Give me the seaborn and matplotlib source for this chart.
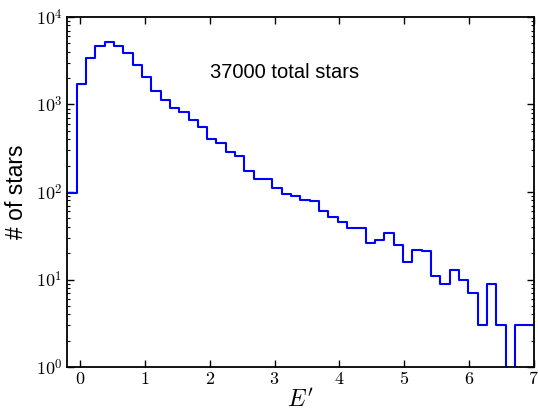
import numpy as np
import pandas as pd
import matplotlib
matplotlib.use("Agg")
import matplotlib.pyplot as plt
from matplotlib.ticker import FixedLocator, FuncFormatter, LogLocator, NullFormatter
import seaborn as sns

# Histogram of E' : 50 equal-width bins between E' = -0.2 and 7.0
bin_lo = -0.2
bin_hi = 7.0
n_bins = 50
counts = [
    98, 1718, 3400, 4700, 5170, 4700, 3835, 2800, 2040, 1440,
    1128, 914, 815, 667, 550, 405, 365, 290, 259, 176,
    140, 139, 110, 95, 89, 82, 79, 61, 52, 45,
    39, 39, 26, 28, 34, 25, 16, 22, 21, 11,
    9, 13, 10, 7, 3, 9, 3, 0, 3, 3,
]
total_label = "37000 total stars"
x_ticks = [0, 1, 2, 3, 4, 5, 6, 7]
y_decades = [0, 1, 2, 3, 4]

edges = np.linspace(bin_lo, bin_hi, n_bins + 1)
df = pd.DataFrame({"E": 0.5 * (edges[:-1] + edges[1:]), "n": counts})

sns.set_style("white")
plt.rcParams["font.family"] = ["Liberation Sans", "DejaVu Sans"]
plt.rcParams["mathtext.fontset"] = "cm"
plt.rcParams["text.color"] = "black"
plt.rcParams["axes.labelcolor"] = "black"

fig = plt.figure(figsize=(5.38, 4.11), dpi=100)
ax = fig.add_axes([67.3 / 538, 1 - 367 / 411, (533.5 - 67.3) / 538, (367 - 17) / 411])

sns.histplot(data=df, x="E", weights="n", bins=n_bins, binrange=(bin_lo, bin_hi),
             element="step", fill=False, color="#0000ff", linewidth=1.5, ax=ax)

ax.set_yscale("log")
ax.set_xlim(bin_lo, bin_hi)
ax.set_ylim(10 ** y_decades[0], 10 ** y_decades[-1])

ax.xaxis.set_major_locator(FixedLocator(x_ticks))
ax.xaxis.set_major_formatter(FuncFormatter(lambda v, p: r"$%d$" % round(v)))
ax.yaxis.set_major_locator(FixedLocator([10.0 ** d for d in y_decades]))
ax.yaxis.set_major_formatter(FuncFormatter(lambda v, p: r"$10^{%d}$" % round(np.log10(v))))
ax.yaxis.set_minor_locator(LogLocator(base=10, subs=np.arange(2, 10)))
ax.yaxis.set_minor_formatter(NullFormatter())

ax.tick_params(which="both", direction="in", top=True, right=True,
               bottom=True, left=True, colors="black", labelsize=13)
ax.tick_params(which="major", length=5, width=1.0)
ax.tick_params(axis="x", which="major", pad=3)
ax.tick_params(axis="y", which="major", pad=3.5)
ax.tick_params(which="minor", length=2.5, width=0.8)
for s in ax.spines.values():
    s.set_linewidth(1.3)
    s.set_color("black")

ax.set_xlabel(r"$E'$", fontsize=17, labelpad=0)
ax.set_ylabel("# of stars", fontsize=16.5)
ax.yaxis.set_label_coords(-0.084, 0.5)

ax.text(2.0, 2300, total_label, fontsize=14.5, ha="left", va="center")

fig.savefig("out.png", dpi=100)
